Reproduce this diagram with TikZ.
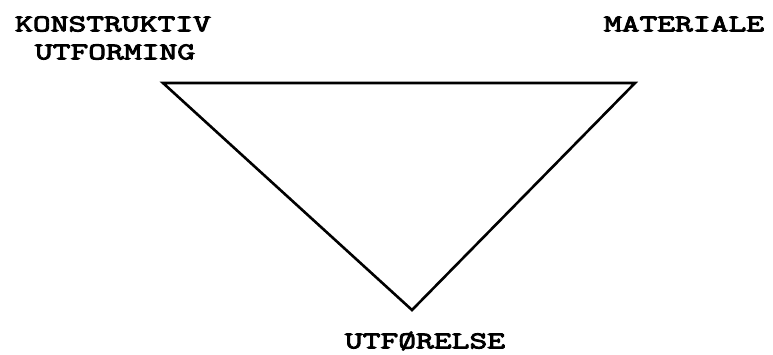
\documentclass[tikz,border=0pt]{standalone}
\usepackage{fontspec}
\newfontfamily\labfont[FakeStretch=1.44,FakeBold=4]{Latin Modern Mono}
\begin{document}
\begin{tikzpicture}[x=1pt,y=-1pt,
  lab/.style={inner sep=0pt,font=\labfont\fontsize{24}{24}\selectfont},
  edge/.style={line width=2.6pt,line join=miter}]
\useasboundingbox (0,0) rectangle (773,354);
\node[lab] (k) at (113,24) {KONSTRUKTIV};
\node[lab] (u) at (115,52) {UTFORMING};
\node[lab] (m) at (684,24) {MATERIALE};
\node[lab] (b) at (425,341) {UTFØRELSE};
\coordinate (A) at (163,83);
\coordinate (B) at (635,83);
\coordinate (C) at (412,310);
\draw[edge] (A) -- (B) -- (C) -- cycle;
\end{tikzpicture}
\end{document}
